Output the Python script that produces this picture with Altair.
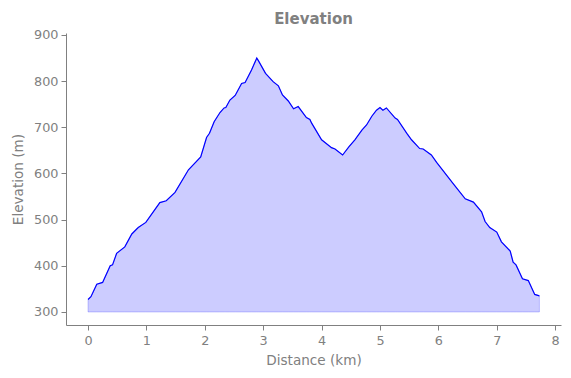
import altair as alt
import pandas as pd

dist = [0.00, 0.05, 0.15, 0.25, 0.38, 0.42, 0.49, 0.63, 0.75, 0.86, 0.99, 1.23, 1.34, 1.49,
        1.72, 1.93, 2.03, 2.08, 2.16, 2.26, 2.33, 2.36, 2.43, 2.52, 2.63, 2.69, 2.80, 2.89,
        2.92, 3.04, 3.17, 3.26, 3.33, 3.43, 3.52, 3.60, 3.74, 3.80, 3.83, 4.00, 4.17, 4.23,
        4.36, 4.47, 4.57, 4.69, 4.77, 4.86, 4.94, 5.00, 5.05, 5.11, 5.26, 5.30, 5.46, 5.54,
        5.68, 5.74, 5.88, 5.97, 6.26, 6.46, 6.60, 6.74, 6.80, 6.88, 7.00, 7.08, 7.23, 7.28,
        7.33, 7.44, 7.54, 7.65, 7.73]
elev = [327, 333, 360, 364, 400, 402, 427, 441, 469, 483, 494, 537, 541, 559,
        608, 636, 678, 687, 712, 732, 742, 743, 759, 769, 795, 797, 824, 850,
        844, 817, 799, 790, 770, 757, 740, 745, 721, 717, 709, 673, 656, 653,
        640, 658, 673, 694, 705, 724, 737, 743, 737, 742, 720, 717, 687, 673,
        654, 653, 640, 624, 577, 545, 538, 517, 496, 483, 473, 452, 432, 408,
        402, 372, 368, 338, 335]
baseline = 300
x_ticks = [0, 1, 2, 3, 4, 5, 6, 7, 8]
y_ticks = [300, 400, 500, 600, 700, 800, 900]

df = pd.DataFrame({"dist": dist, "elev": elev})

x = alt.X("dist:Q", title="Distance (km)",
          scale=alt.Scale(domain=[-0.377, 8.10], nice=False, zero=False),
          axis=alt.Axis(values=x_ticks, format="d"))
y = alt.Y("elev:Q", title="Elevation (m)",
          scale=alt.Scale(domain=[271.8, 904.3], nice=False, zero=False),
          axis=alt.Axis(values=y_ticks, format="d"))

area = alt.Chart(df).mark_area(
    fill="blue", fillOpacity=0.2, stroke="blue", strokeOpacity=0.2, strokeWidth=1
).encode(x=x, y=y, y2=alt.datum(baseline))

line = alt.Chart(df).mark_line(color="blue", strokeWidth=1.2).encode(x=x, y=y)

chart = alt.layer(area, line).properties(
    width=495, height=292,
    title=alt.TitleParams("Elevation", fontSize=15, font="DejaVu Sans", fontWeight="bold",
                          color="#808080", offset=2),
    autosize=alt.AutoSizeParams(type="none"),
    padding={"left": 58, "top": 25, "right": 2, "bottom": 45},
).configure_view(stroke=None).configure_axis(
    grid=False,
    domainColor="#808080", tickColor="#808080",
    labelColor="#808080", titleColor="#808080",
    labelFont="DejaVu Sans", titleFont="DejaVu Sans",
    labelFontSize=12.8, titleFontSize=13.6, titleFontWeight="normal",
    tickSize=5, labelPadding=4, domainWidth=1, tickWidth=1,
).configure_axisY(titlePadding=8, labelPadding=3).configure_axisX(titlePadding=7)

chart.save("out.html", embed_options={"renderer": "svg", "actions": False})
